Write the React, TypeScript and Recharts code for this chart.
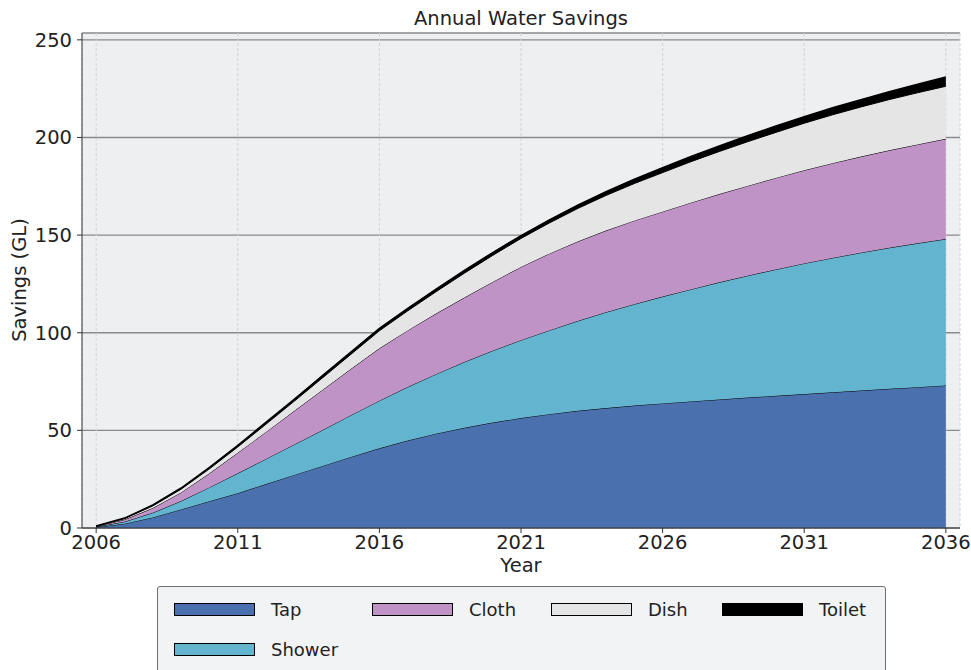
import { Area, AreaChart, CartesianGrid, XAxis, YAxis } from 'recharts';

const YEARS = [
  2006, 2007, 2008, 2009, 2010, 2011, 2012, 2013, 2014, 2015, 2016, 2017, 2018, 2019, 2020, 2021,
  2022, 2023, 2024, 2025, 2026, 2027, 2028, 2029, 2030, 2031, 2032, 2033, 2034, 2035, 2036,
];

const TAP = [
  0.4, 2.2, 5.4, 9.5, 13.7, 17.8, 22.5, 27.2, 31.8, 36.4, 40.8, 44.8, 48.3, 51.3, 54, 56.3, 58.3,
  60, 61.4, 62.7, 63.8, 64.8, 65.8, 66.8, 67.7, 68.6, 69.5, 70.4, 71.3, 72.1, 73,
];
const SHOWER = [
  0.2, 1.0, 2.4, 4.3, 7.1, 10.2, 12.9, 15.6, 18.4, 21.4, 24.4, 27.4, 30.5, 33.7, 36.8, 39.9, 42.9,
  46, 49.1, 51.9, 54.7, 57.4, 60, 62.4, 64.7, 66.9, 68.8, 70.6, 72.2, 73.7, 75,
];
const CLOTH = [
  0.2, 1.1, 2.4, 4.4, 7.2, 10.5, 13.8, 17.2, 20.6, 23.7, 26.8, 29, 31, 33, 35.2, 37.5, 39.3, 40.7,
  41.8, 42.8, 43.5, 44.4, 45.2, 46, 46.9, 47.7, 48.5, 49.2, 49.9, 50.6, 51.3,
];
const DISH = [
  0.1, 0.5, 1.1, 1.7, 2.3, 3.0, 4.0, 5.0, 6.2, 7.5, 9.0, 10.0, 11.2, 12.5, 13.6, 14.6, 15.7, 16.9,
  18, 19, 20, 21, 21.8, 22.6, 23.3, 24.1, 24.8, 25.4, 26, 26.5, 26.9,
];
const TOILET = [
  0.1, 0.3, 0.5, 0.6, 0.8, 0.9, 1.0, 1.1, 1.2, 1.2, 1.3, 1.3, 1.4, 1.4, 1.5, 1.5, 1.6, 1.8, 2.0,
  2.2, 2.5, 2.7, 2.9, 3.1, 3.3, 3.4, 3.6, 3.8, 4.1, 4.4, 4.8,
];

const X_TICKS = [2006, 2011, 2016, 2021, 2026, 2031, 2036];
const Y_TICKS = [0, 50, 100, 150, 200, 250];

const SERIES = [
  { key: 'Tap', color: '#4a70ae' },
  { key: 'Shower', color: '#63b4cf' },
  { key: 'Cloth', color: '#c093c6' },
  { key: 'Dish', color: '#e5e5e5' },
  { key: 'Toilet', color: '#000000' },
];

// matplotlib legend, ncol=4, filled column by column
const LEGEND_COLUMNS = [['Tap', 'Shower'], ['Cloth'], ['Dish'], ['Toilet']];
const LEGEND_COL_LEFT = [16, 214, 393, 564];

const FONT = '"DejaVu Sans", sans-serif';
const FS = 19.5;
const LEGEND_FS = 18;

const data = YEARS.map((year, i) => ({
  year,
  Tap: TAP[i],
  Shower: SHOWER[i],
  Cloth: CLOTH[i],
  Dish: DISH[i],
  Toilet: TOILET[i],
}));

export default function App() {
  const colorOf = (k: string) => SERIES.find((s) => s.key === k)?.color ?? '#000';

  return (
    <div
      style={{
        position: 'absolute',
        left: 0,
        top: 0,
        width: 971,
        height: 670,
        background: '#ffffff',
        overflow: 'hidden',
        fontFamily: FONT,
      }}
    >
      <div
        style={{
          position: 'absolute',
          left: 82,
          width: 878,
          top: 8,
          textAlign: 'center',
          fontSize: FS,
          color: '#222',
          lineHeight: '22px',
        }}
      >
        Annual Water Savings
      </div>

      <AreaChart
        width={971}
        height={670}
        data={data}
        margin={{ top: 33, right: 11, left: 0, bottom: 0 }}
      >
        <CartesianGrid vertical={false} stroke="#8a8a8a" strokeWidth={1.4} fill="#eeeff1" />
        <CartesianGrid horizontal={false} stroke="#d2d2d2" strokeDasharray="3 2" />
        <XAxis
          dataKey="year"
          type="number"
          domain={[2005.5, 2036.5]}
          ticks={X_TICKS}
          interval={0}
          height={142}
          tickSize={5}
          tickMargin={2}
          stroke="#333"
          tick={{ fill: '#222', fontSize: FS, fontFamily: FONT }}
          label={{
            content: () => (
              <text x={521} y={572} textAnchor="middle" fontSize={FS} fill="#222" fontFamily={FONT}>
                Year
              </text>
            ),
          }}
        />
        <XAxis
          xAxisId="top"
          dataKey="year"
          type="number"
          orientation="top"
          domain={[2005.5, 2036.5]}
          height={0}
          tick={false}
          tickLine={false}
          stroke="#888"
        />
        <YAxis
          domain={[0, 253.5]}
          ticks={Y_TICKS}
          interval={0}
          width={82}
          tickSize={5}
          tickMargin={5}
          stroke="#333"
          tick={{ fill: '#222', fontSize: FS, fontFamily: FONT }}
          label={{
            content: () => (
              <text
                x={19}
                y={280}
                transform="rotate(-90 19 280)"
                textAnchor="middle"
                dominantBaseline="central"
                fontSize={FS}
                fill="#222"
                fontFamily={FONT}
              >
                Savings (GL)
              </text>
            ),
          }}
        />
        <YAxis
          yAxisId="right"
          orientation="right"
          domain={[0, 253.5]}
          width={0}
          tick={false}
          tickLine={false}
          stroke="#666"
        />
        {SERIES.map((s) => (
          <Area
            key={s.key}
            dataKey={s.key}
            stackId="1"
            type="linear"
            fill={s.color}
            fillOpacity={1}
            stroke="#000"
            strokeWidth={s.key === 'Toilet' ? 1.4 : 1}
            isAnimationActive={false}
          />
        ))}
      </AreaChart>

      <div
        style={{
          position: 'absolute',
          left: 157,
          top: 586,
          width: 727,
          height: 100,
          background: '#f2f3f5',
          border: '1px solid #6f6f6f',
          borderRadius: 3,
        }}
      >
        {LEGEND_COLUMNS.map((col, ci) =>
          col.map((name, ri) => (
            <div
              key={name}
              style={{
                position: 'absolute',
                left: LEGEND_COL_LEFT[ci],
                top: 15 + ri * 40,
                display: 'flex',
                alignItems: 'center',
                height: 14,
              }}
            >
              <span
                style={{
                  display: 'inline-block',
                  width: 79,
                  height: 11,
                  background: colorOf(name),
                  border: '1px solid #000',
                }}
              />
              <span
                style={{ marginLeft: 16, fontSize: LEGEND_FS, color: '#222', whiteSpace: 'nowrap' }}
              >
                {name}
              </span>
            </div>
          ))
        )}
      </div>
    </div>
  );
}
